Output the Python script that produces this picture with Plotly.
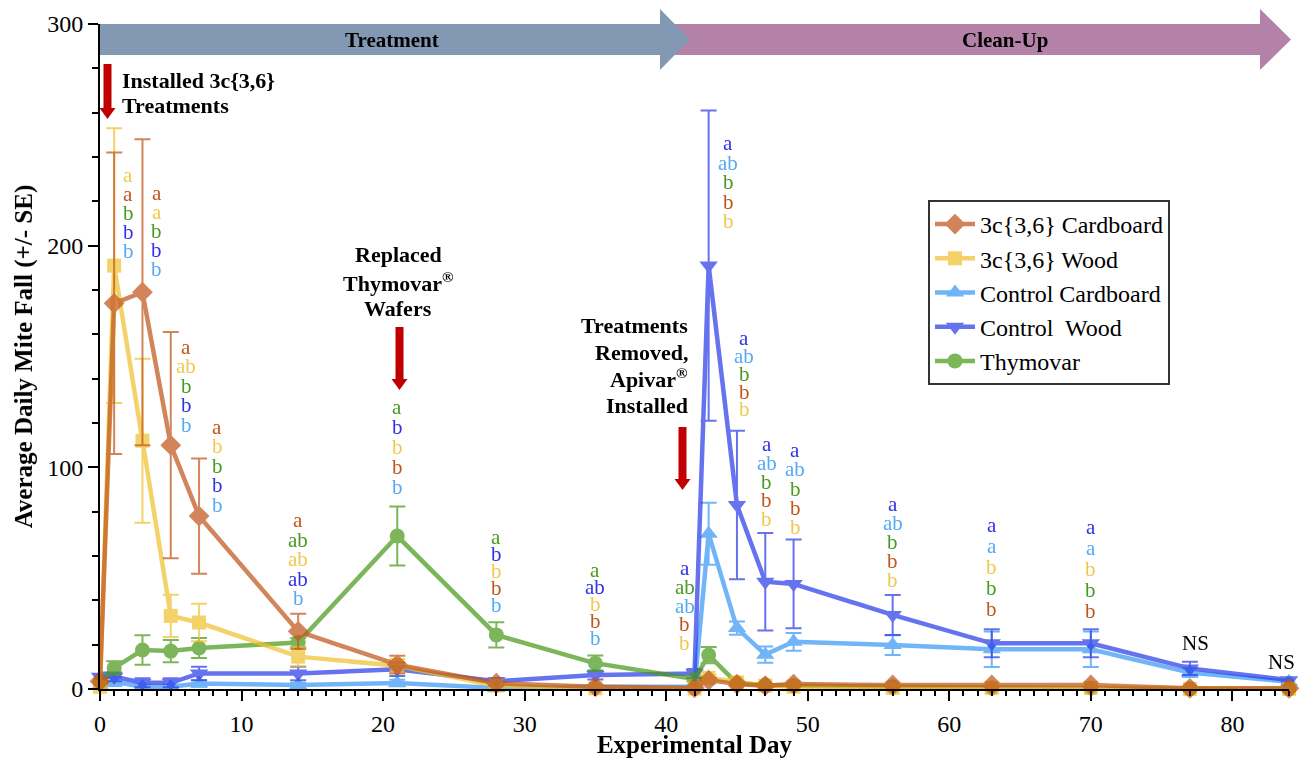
import plotly.graph_objects as go

# ---------------- data ----------------
days = [0, 1, 3, 5, 7, 14, 21, 28, 35, 42, 43, 45, 47, 49, 56, 63, 70, 77, 84]

series_names = ["3c{3,6} Cardboard", "3c{3,6} Wood", "Control Cardboard", "Control  Wood", "Thymovar"]

cardboard_3c = [3.5, 174, 179, 110, 78, 26, 11, 2.6, 1, 0.5, 4, 2.2, 1.5, 2.2, 1.8, 1.8, 1.8, 0.3, 0.3]
cardboard_3c_se = [1, 68, 69, 51, 26, 8, 4, 1, 0.5, 0.3, 1, 0.8, 0.5, 0.8, 0.5, 0.5, 0.5, 0.2, 0.2]

wood_3c = [1, 191, 112, 33, 30, 14.6, 10.5, 1.5, 0.3, 0.2, 5, 3, 1.5, 1, 0.5, 0.5, 0.5, 0, 0]
wood_3c_se = [0.5, 62, 37, 9.5, 8.5, 4.5, 3, 0.8, 0.3, 0.2, 1.2, 0.8, 0.5, 0.4, 0.3, 0.3, 0.3, 0, 0]

control_cardboard = [1.5, 3.3, 1, 1, 2.5, 1.8, 2.7, 0.5, 1, 1, 70, 27.5, 15.5, 21.3, 19.8, 17.9, 17.9, 7.4, 3.3]
control_cardboard_se = [1, 2, 1, 1, 1.5, 1, 1.5, 0.3, 0.5, 0.5, 14, 3, 3.7, 4, 4.5, 8, 8, 2, 1]

control_wood = [5.5, 5.5, 2.8, 2.8, 7, 7, 8.9, 3.5, 6.3, 7, 191, 83, 48.4, 47.4, 33.4, 20.6, 20.6, 9.3, 4]
control_wood_se = [2, 2, 2, 2, 3, 3, 3, 1.5, 2, 2, 70, 33.5, 22, 20, 9, 6.3, 6.3, 3, 1]

thymovar = [3, 9.5, 17.6, 17.1, 18.5, 21, 69, 24.4, 11.6, 4.5, 15.3, 2.6, 1.8, 1.5, 1, 0.5, 0.5, 0, 0]
thymovar_se = [1, 3, 6.7, 5, 4.5, 2, 13.3, 5.7, 3.5, 1, 3.7, 0.8, 0.5, 0.5, 0.3, 0.3, 0.3, 0, 0]

# significance letters per sampling day (top to bottom), with group key
letter_days = [1, 3, 5, 7, 14, 21, 28, 35, 42, 43, 45, 47, 49, 56, 63, 70]
letter_groups = [
    [("a", "W"), ("a", "C"), ("b", "T"), ("b", "CW"), ("b", "CC")],
    [("a", "C"), ("a", "W"), ("b", "T"), ("b", "CW"), ("b", "CC")],
    [("a", "C"), ("ab", "W"), ("b", "T"), ("b", "CW"), ("b", "CC")],
    [("a", "C"), ("b", "W"), ("b", "T"), ("b", "CW"), ("b", "CC")],
    [("a", "C"), ("ab", "T"), ("ab", "W"), ("ab", "CW"), ("b", "CC")],
    [("a", "T"), ("b", "CW"), ("b", "W"), ("b", "C"), ("b", "CC")],
    [("a", "T"), ("b", "CW"), ("b", "W"), ("b", "C"), ("b", "CC")],
    [("a", "T"), ("ab", "CW"), ("b", "W"), ("b", "C"), ("b", "CC")],
    [("a", "CW"), ("ab", "T"), ("ab", "CC"), ("b", "C"), ("b", "W")],
    [("a", "CW"), ("ab", "CC"), ("b", "T"), ("b", "C"), ("b", "W")],
    [("a", "CW"), ("ab", "CC"), ("b", "T"), ("b", "C"), ("b", "W")],
    [("a", "CW"), ("ab", "CC"), ("b", "T"), ("b", "C"), ("b", "W")],
    [("a", "CW"), ("ab", "CC"), ("b", "T"), ("b", "C"), ("b", "W")],
    [("a", "CW"), ("ab", "CC"), ("b", "T"), ("b", "C"), ("b", "W")],
    [("a", "CW"), ("a", "CC"), ("b", "W"), ("b", "T"), ("b", "C")],
    [("a", "CW"), ("a", "CC"), ("b", "W"), ("b", "T"), ("b", "C")],
]
ns_days = [77, 84]

# ---------------- layout / style ----------------
# label stack placement (x in days, top letter y in data units, spacing px)
stack_x = [2.0, 4.0, 6.1, 8.3, 14, 21, 28, 35, 41.3, 44.4, 45.5, 47.1, 49.1, 56, 63, 70]
stack_y = [231.8, 223.7, 154.3, 118.2, 76.2, 127.2, 68.6, 53.7, 54.6, 246.3, 158.3, 110.5, 107.8, 83.4, 74.0, 73.1]
stack_gap = [19, 19, 19.5, 19.5, 19.5, 20, 17, 17, 18.8, 19.5, 17.8, 18.8, 19.3, 19, 21, 21]
ns_pos = [(77.4, 20.7), (83.5, 12.2)]

line_col = {"C": "#c0561a", "W": "#f0c030", "CC": "#3a98f5", "CW": "#2a3ce8", "T": "#4a9a1a"}
text_col = {"C": "#c0561a", "W": "#f0c850", "CC": "#55aaf5", "CW": "#3232e6", "T": "#4a9a20"}

SERIF = "Liberation Serif, Times New Roman, serif"
W, H = 1308, 758
L, R, T, B = 100, 19, 24, 69
PW, PH = W - L - R, H - T - B


def px(x):
    return (x - L) / PW


def py(y):
    return (H - B - y) / PH


fig = go.Figure()

traces = [
    ("CC", control_cardboard, control_cardboard_se, "triangle-up", 16, 3),
    ("CW", control_wood, control_wood_se, "triangle-down", 16, 4),
    ("T", thymovar, thymovar_se, "circle", 15, 5),
    ("W", wood_3c, wood_3c_se, "square", 14, 2),
    ("C", cardboard_3c, cardboard_3c_se, "diamond", 16, 1),
]
name_of = {"C": series_names[0], "W": series_names[1], "CC": series_names[2],
           "CW": series_names[3], "T": series_names[4]}

for key, vals, se, sym, size, rank in traces:
    c = line_col[key]
    fig.add_trace(go.Scatter(
        x=days, y=vals, name=name_of[key], mode="lines+markers",
        line=dict(color=c, width=4.5),
        marker=dict(symbol=sym, size=size, color=c),
        error_y=dict(type="data", array=se, visible=True, color=c, thickness=2, width=8),
        opacity=0.72, legendrank=rank, cliponaxis=False,
    ))

annotations = []
for dx, ty, gap, grp in zip(stack_x, stack_y, stack_gap, letter_groups):
    for i, (txt, k) in enumerate(grp):
        annotations.append(dict(
            x=dx, y=ty, xref="x", yref="y", text=txt, showarrow=False,
            yshift=-i * gap, xanchor="center", yanchor="middle",
            font=dict(family=SERIF, size=21, color=text_col[k]),
        ))
for (nx, ny) in ns_pos:
    annotations.append(dict(x=nx, y=ny, xref="x", yref="y", text="NS", showarrow=False,
                            xanchor="center", yanchor="middle",
                            font=dict(family=SERIF, size=21, color="black")))

bold_font = dict(family=SERIF, size=22, color="black")
note_lines = [
    # (text, pixel x, pixel y, anchor)
    ("Installed 3c{3,6}", 120, 80, "left"),
    ("Treatments", 120, 106, "left"),
    ("Replaced", 398, 255, "center"),
    ("Thymovar<sup>®</sup>", 398, 282, "center"),
    ("Wafers", 398, 308, "center"),
    ("Treatments", 690, 325, "right"),
    ("Removed,", 690, 352, "right"),
    ("Apivar<sup>®</sup>", 690, 378, "right"),
    ("Installed", 690, 405, "right"),
]
for txt, xx, yy, anc in note_lines:
    annotations.append(dict(x=px(xx), y=py(yy), xref="paper", yref="paper", xanchor=anc,
                            yanchor="middle", showarrow=False, text=f"<b>{txt}</b>", font=bold_font))

annotations += [
    dict(x=px(392), y=py(40), xref="paper", yref="paper", showarrow=False, xanchor="center",
         yanchor="middle", text="<b>Treatment</b>", font=dict(family=SERIF, size=21, color="black")),
    dict(x=px(1005), y=py(40), xref="paper", yref="paper", showarrow=False, xanchor="center",
         yanchor="middle", text="<b>Clean-Up</b>", font=dict(family=SERIF, size=21, color="black")),
]


def block_arrow(x0, x1, head_x, ytop, ybot, htop, hbot):
    ym = (ytop + ybot) / 2
    pts = [(x0, ytop), (head_x, ytop), (head_x, htop), (x1, ym), (head_x, hbot), (head_x, ybot), (x0, ybot)]
    return "M " + " L ".join(f"{px(a):.5f},{py(b):.5f}" for a, b in pts) + " Z"


def down_arrow(cx, top, tip, shaft_w, head_w, head_h):
    pts = [(cx - shaft_w / 2, top), (cx + shaft_w / 2, top), (cx + shaft_w / 2, tip - head_h),
           (cx + head_w / 2, tip - head_h), (cx, tip), (cx - head_w / 2, tip - head_h),
           (cx - shaft_w / 2, tip - head_h)]
    return "M " + " L ".join(f"{px(a):.5f},{py(b):.5f}" for a, b in pts) + " Z"


shapes = [
    dict(type="path", xref="paper", yref="paper", path=block_arrow(655, 1291, 1260, 24, 55, 9, 70),
         fillcolor="#b482a8", line=dict(width=0), layer="above"),
    dict(type="path", xref="paper", yref="paper", path=block_arrow(100, 690, 660, 24, 55, 9, 70),
         fillcolor="#8399b3", line=dict(width=0), layer="above"),
    dict(type="path", xref="paper", yref="paper", path=down_arrow(107.5, 64, 119, 8, 16, 11),
         fillcolor="#c00000", line=dict(width=0), layer="above"),
    dict(type="path", xref="paper", yref="paper", path=down_arrow(399.5, 327, 390, 8, 16, 11),
         fillcolor="#c00000", line=dict(width=0), layer="above"),
    dict(type="path", xref="paper", yref="paper", path=down_arrow(682.5, 427, 490, 8, 16, 11),
         fillcolor="#c00000", line=dict(width=0), layer="above"),
]

fig.update_layout(
    width=W, height=H,
    margin=dict(l=L, r=R, t=T, b=B, autoexpand=False),
    paper_bgcolor="white", plot_bgcolor="white",
    font=dict(family=SERIF, color="black"),
    showlegend=True,
    legend=dict(x=px(928), y=py(200), xanchor="left", yanchor="top",
                bordercolor="#333333", borderwidth=2, bgcolor="white",
                font=dict(family=SERIF, size=24, color="black"),
                tracegroupgap=0, itemwidth=40, entrywidth=215, entrywidthmode="pixels"),
    annotations=annotations,
    shapes=shapes,
)

fig.update_xaxes(
    range=[0, 84], showgrid=False, zeroline=False,
    showline=True, linecolor="black", linewidth=2,
    ticks="outside", ticklen=10, tickwidth=2, tickcolor="black",
    tick0=0, dtick=10, ticklabelstandoff=2,
    minor=dict(ticks="outside", ticklen=5, tickwidth=1.5, tickcolor="black", dtick=1, showgrid=False),
    tickfont=dict(family=SERIF, size=24, color="black"),
    title=dict(text="<b>Experimental Day</b>", font=dict(family=SERIF, size=25, color="black"), standoff=3),
)
fig.update_yaxes(
    range=[0, 300], showgrid=False, zeroline=False,
    showline=True, linecolor="black", linewidth=2,
    ticks="outside", ticklen=10, tickwidth=2, tickcolor="black",
    tick0=0, dtick=100,
    minor=dict(ticks="outside", ticklen=6, tickwidth=1.5, tickcolor="black", dtick=20, showgrid=False),
    tickfont=dict(family=SERIF, size=24, color="black"),
    title=dict(text="<b>Average Daily Mite Fall (+/- SE)</b>",
               font=dict(family=SERIF, size=25, color="black"), standoff=8),
)

fig.write_html("out.html")
